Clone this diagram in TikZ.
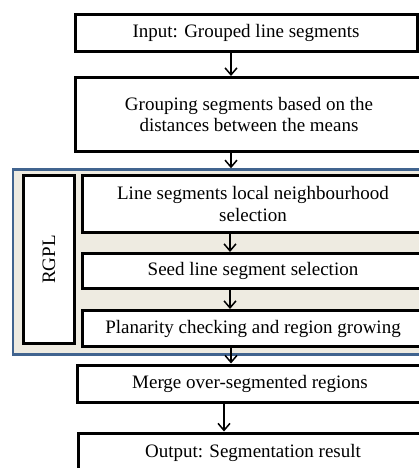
\documentclass[tikz,border=0pt]{standalone}
\usepackage{fontspec}
\setmainfont{Liberation Serif}
\usetikzlibrary{arrows.meta,calc}
\definecolor{frameblue}{HTML}{41648F}
\definecolor{framefill}{HTML}{EEEBE1}
\tikzset{
  stepbox/.style={draw=black, line width=3pt, fill=white, inner sep=0pt,
    align=center, font=\fontsize{19}{21}\selectfont, anchor=center},
  arr/.style={line width=1.5pt, -{Straight Barb[length=7pt,width=12pt,line width=1.5pt]}},
}
\begin{document}
\begin{tikzpicture}[x=1pt,y=-1pt]
\useasboundingbox (0,0) rectangle (419,468);
\clip (0,0) rectangle (419,468);
\fill[white] (0,0) rectangle (419,468);
% frame
\node[draw=frameblue, line width=2.5pt, fill=framefill, minimum width=420pt, minimum height=185pt, inner sep=0pt] (frame) at (223,262) {};
% boxes
\node[stepbox, minimum width=342pt, minimum height=37pt] (in) at (246,33) {Input: Grouped line segments};
\node[stepbox, minimum width=347pt, minimum height=74pt] (grp) at (249,114.5) {Grouping segments based on the\\distances between the means};
\node[stepbox, minimum width=51pt, minimum height=168pt] (rgpl) at (49,259.5) {};
\node[font=\fontsize{19}{21}\selectfont, rotate=90] (rgpltext) at (rgpl.center) {RGPL};
\node[stepbox, minimum width=341pt, minimum height=57pt] (ls) at (253,204) {Line segments local neighbourhood\\selection};
\node[stepbox, minimum width=341pt, minimum height=35pt] (seed) at (253,271) {Seed line segment selection};
\node[stepbox, minimum width=341pt, minimum height=36pt, text height=15pt] (plan) at (253,328.5) {Planarity checking and region growing};
\node[stepbox, minimum width=346pt, minimum height=37pt] (merge) at (250,383.5) {Merge over-segmented regions};
\node[stepbox, minimum width=350pt, minimum height=40pt] (out) at (253,453) {Output: Segmentation result};
% arrow columns
\coordinate (ax) at (231,0);
\coordinate (bx) at (230,0);
\coordinate (cx) at (224,0);
\draw[arr] (in.south -| ax) -- (grp.north -| ax);
\draw[arr] (grp.south -| ax) -- (frame.north -| ax);
\draw[arr] (ls.south -| bx) -- (seed.north -| bx);
\draw[arr] (seed.south -| bx) -- (plan.north -| bx);
\draw[arr] (plan.south -| ax) -- (merge.north -| ax);
\draw[arr] (merge.south -| cx) -- (out.north -| cx);
\end{tikzpicture}
\end{document}
